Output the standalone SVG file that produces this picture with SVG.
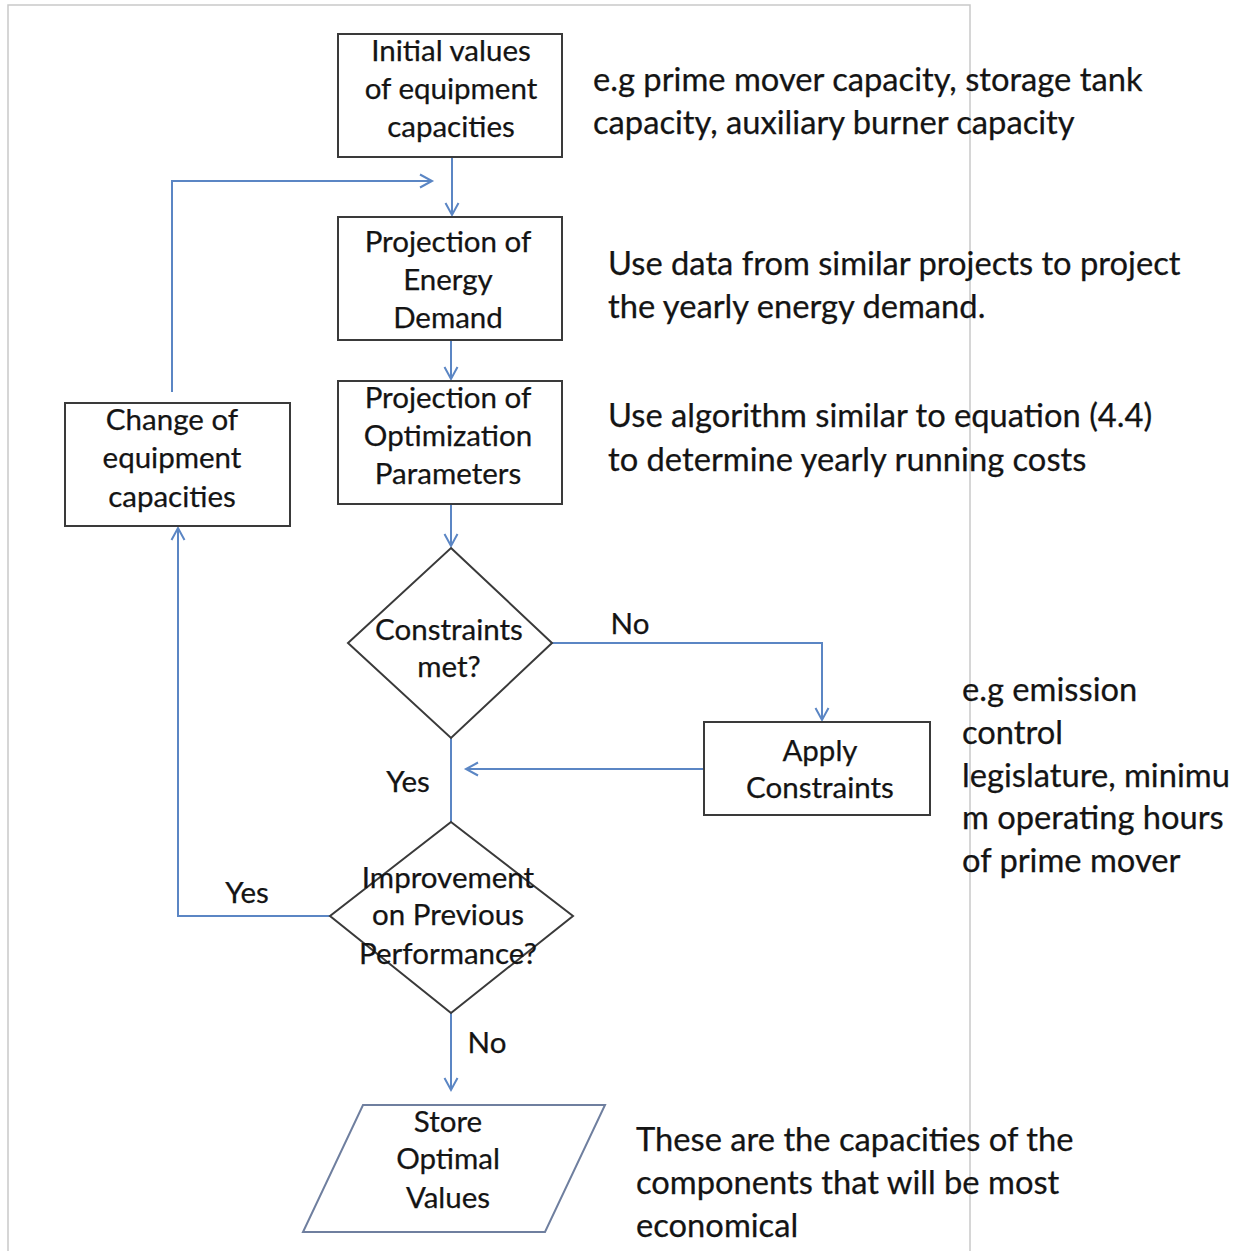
<svg xmlns="http://www.w3.org/2000/svg" width="1244" height="1251" viewBox="0 0 1244 1251">
  <style>
    .node { fill: #ffffff; stroke: #3a3a3a; stroke-width: 2; }
    .io { fill: #ffffff; stroke: #6f7f9f; stroke-width: 2; }
    .link { fill: none; stroke: #5b86c4; stroke-width: 2; }
    .lbl { font-family: Lato, "Liberation Sans", sans-serif; font-size: 29.5px; fill: #141414; text-anchor: middle; stroke: #141414; stroke-width: 0.25; }
    .note { font-family: Lato, "Liberation Sans", sans-serif; font-size: 32.7px; fill: #141414; stroke: #141414; stroke-width: 0.25; }
    .page { fill: none; stroke: #c9c9c9; stroke-width: 1.5; }
  </style>
  <defs>
    <marker id="open" markerUnits="userSpaceOnUse" markerWidth="16" markerHeight="16" refX="13" refY="8" orient="auto">
      <path d="M1,1.5 L13,8 L1,14.5" fill="none" stroke="#5b86c4" stroke-width="2"/>
    </marker>
  </defs>

  <rect width="1244" height="1251" fill="#ffffff"/>
  <!-- page frame -->
  <path class="page" d="M8,1251 V5 H970 V1251"/>

  <!-- connectors -->
  <g id="connectors">
    <path class="link" d="M452,157 V215" marker-end="url(#open)"/>
    <path class="link" d="M172,392 V181 H432" marker-end="url(#open)"/>
    <path class="link" d="M451,340 V379" marker-end="url(#open)"/>
    <path class="link" d="M451,504 V546" marker-end="url(#open)"/>
    <path class="link" d="M552,643 H822 V720" marker-end="url(#open)"/>
    <path class="link" d="M704,769 H466" marker-end="url(#open)"/>
    <path class="link" d="M451,738 V822"/>
    <path class="link" d="M330,916 H178 V528" marker-end="url(#open)"/>
    <path class="link" d="M451,1013 V1090" marker-end="url(#open)"/>
    <text class="lbl" x="630" y="634">No</text>
    <text class="lbl" x="408" y="792">Yes</text>
    <text class="lbl" x="247" y="903">Yes</text>
    <text class="lbl" x="487" y="1053">No</text>
  </g>

  <g id="initial-values">
    <rect class="node" x="338" y="34" width="224" height="123"/>
    <text class="lbl" x="451" y="61">Initial values</text>
    <text class="lbl" x="451" y="99">of equipment</text>
    <text class="lbl" x="451" y="137">capacities</text>
  </g>

  <g id="energy-demand">
    <rect class="node" x="338" y="217" width="224" height="123"/>
    <text class="lbl" x="448" y="252">Projection of</text>
    <text class="lbl" x="448" y="290">Energy</text>
    <text class="lbl" x="448" y="328">Demand</text>
  </g>

  <g id="optimization-parameters">
    <rect class="node" x="338" y="381" width="224" height="123"/>
    <text class="lbl" x="448" y="408">Projection of</text>
    <text class="lbl" x="448" y="446">Optimization</text>
    <text class="lbl" x="448" y="484">Parameters</text>
  </g>

  <g id="change-capacities">
    <rect class="node" x="65" y="403" width="225" height="123"/>
    <text class="lbl" x="172" y="430">Change of</text>
    <text class="lbl" x="172" y="468">equipment</text>
    <text class="lbl" x="172" y="507">capacities</text>
  </g>

  <g id="constraints-met">
    <polygon class="node" points="451,548 552,643 451,738 348,643"/>
    <text class="lbl" x="449" y="640">Constraints</text>
    <text class="lbl" x="449" y="677">met?</text>
  </g>

  <g id="apply-constraints">
    <rect class="node" x="704" y="722" width="226" height="93"/>
    <text class="lbl" x="820" y="761">Apply</text>
    <text class="lbl" x="820" y="798">Constraints</text>
  </g>

  <g id="improvement">
    <polygon class="node" points="451,822 573,916 451,1013 330,916"/>
    <text class="lbl" x="448" y="888">Improvement</text>
    <text class="lbl" x="448" y="925">on Previous</text>
    <text class="lbl" x="448" y="964">Performance?</text>
  </g>

  <g id="store-optimal">
    <polygon class="io" points="363,1105 605,1105 545,1232 303,1232"/>
    <text class="lbl" x="448" y="1132">Store</text>
    <text class="lbl" x="448" y="1169">Optimal</text>
    <text class="lbl" x="448" y="1208">Values</text>
  </g>

  <!-- side notes -->
  <g id="notes">
    <text class="note" x="593" y="91">e.g prime mover capacity, storage tank</text>
    <text class="note" x="593" y="134">capacity, auxiliary burner capacity</text>
    <text class="note" x="608" y="275">Use data from similar projects to project</text>
    <text class="note" x="608" y="318">the yearly energy demand.</text>
    <text class="note" x="608" y="427">Use algorithm similar to equation (4.4)</text>
    <text class="note" x="608" y="471">to determine yearly running costs</text>
    <text class="note" x="962" y="701">e.g emission</text>
    <text class="note" x="962" y="744">control</text>
    <text class="note" x="962" y="787">legislature, minimu</text>
    <text class="note" x="962" y="829">m operating hours</text>
    <text class="note" x="962" y="872">of prime mover</text>
    <text class="note" x="636" y="1151">These are the capacities of the</text>
    <text class="note" x="636" y="1194">components that will be most</text>
    <text class="note" x="636" y="1237">economical</text>
  </g>
</svg>
